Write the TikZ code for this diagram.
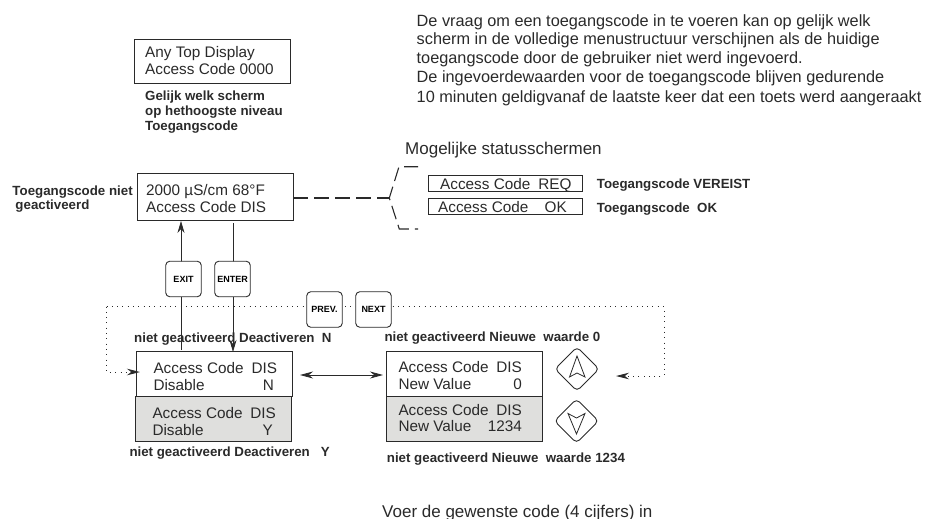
\documentclass[tikz,border=0pt]{standalone}
\usepackage{fontspec}
\setmainfont{Liberation Sans}
\usetikzlibrary{arrows.meta}
\definecolor{screengray}{HTML}{DFDFDD}
\definecolor{inkgray}{HTML}{2A2A2A}
\tikzset{
   screen/.style={draw=inkgray, line width=.9pt, minimum width=156pt, minimum height=45pt, inner sep=0pt},
   dimmed/.style={screen, fill=screengray},
   strip/.style={draw=inkgray, line width=.7pt, minimum width=154pt, minimum height=16pt, inner sep=0pt},
   lcd/.style={font=\fontsize{15.3}{17}\selectfont, text=inkgray, inner sep=0pt, anchor=base west},
   lcdend/.style={lcd, anchor=base east},
   note/.style={font=\fontsize{13.3}{15}\selectfont\bfseries, text=inkgray, inner sep=0pt, anchor=base west},
   keybox/.style={draw=inkgray, line width=.9pt, rounded corners=4pt, fill=white, minimum size=35.5pt, inner sep=0pt, font=\fontsize{9}{10}\selectfont\bfseries},
   arrowkey/.style={draw=inkgray, line width=.9pt, rounded corners=4pt, minimum size=31pt, rotate=45, inner sep=0pt},
   flow/.style={draw=inkgray, line width=.8pt, -{Stealth[length=12pt,width=7pt]}},
   loopline/.style={draw=inkgray, line width=.9pt, dash pattern=on .9pt off 4.4pt, -{Stealth[length=13pt,width=6.5pt]}},
   body/.style={font=\fontsize{16.3}{18}\selectfont, text=inkgray, inner sep=0pt, anchor=base west}
}
\begin{document}
\begin{tikzpicture}[x=1pt,y=-1pt]
   \useasboundingbox (0,0) rectangle (946,519);

   \node[body] (intro1) at (416.5,26.5) {De vraag om een toegangscode in te voeren kan op gelijk welk};
   \node[body] (intro2) at (416.5,45) {scherm in de volledige menustructuur verschijnen als de huidige};
   \node[body] (intro3) at (416.5,64) {toegangscode door de gebruiker niet werd ingevoerd.};
   \node[body] (intro4) at (416.5,83) {De ingevoerdewaarden voor de toegangscode blijven gedurende};
   \node[body] (intro5) at (416.5,102.5) {10 minuten geldigvanaf de laatste keer dat een toets werd aangeraakt};

   \node[screen, minimum height=44pt] (top) at (212.5,61) {};
   \node[lcd] (top1) at (145,57.7) {Any Top Display};
   \node[lcd] (top2) at (145,75) {Access Code 0000};
   \node[note] (topnote1) at (145,100) {Gelijk welk scherm};
   \node[note] (topnote2) at (145,116) {op hethoogste niveau};
   \node[note] (topnote3) at (145,130) {Toegangscode};

   \node[screen, minimum height=47pt] (status) at (215,197) {};
   \node[lcd] (status1) at (146,195.7) {2000 µS/cm 68°F};
   \node[lcd] (status2) at (146,212.3) {Access Code DIS};
   \node[note] (statusnote1) at (12.3,195) {Toegangscode niet};
   \node[note] (statusnote2) at (15.3,209) {geactiveerd};

   \node[body, font=\fontsize{17}{20}\selectfont] (title) at (405,154) {Mogelijke statusschermen};
   \coordinate (fork) at (389.3,198);
   \coordinate (forkup) at (418,166.7);
   \coordinate (forkdown) at (418,229);
   \draw[inkgray, line width=1.3pt, dash pattern=on 15pt off 6pt] (status.east |- fork) -- (fork);
   \draw[inkgray, line width=1.1pt, dash pattern=on 14pt off 6pt] (forkup) -- (399,166.7) -- (fork) -- (399.3,229) -- (forkdown);

   \node[strip] (req) at (505.7,183) {};
   \node[lcd] (req1) at (440,189) {Access Code};
   \node[lcdend] (req2) at (571.7,189) {REQ};
   \node[strip] (ok) at (505.7,206.5) {};
   \node[lcd] (ok1) at (438,212.3) {Access Code};
   \node[lcdend] (ok2) at (567,212.3) {OK};
   \node[note] (reqnote) at (596.7,188) {Toegangscode VEREIST};
   \node[note] (oknote) at (596.7,212) {Toegangscode\ \ OK};

   \node[screen] (dis) at (214,374) {};
   \node[dimmed] (disy) at (213,418.5) {};
   \node[lcd] (dis1) at (153.3,373.3) {Access Code};
   \node[lcdend] (dis2) at (277.3,373.3) {DIS};
   \node[lcd] (dis3) at (153.3,390) {Disable};
   \node[lcdend] (dis4) at (274,390) {N};
   \node[lcd] (disy1) at (152.3,418) {Access Code};
   \node[lcdend] (disy2) at (276,418) {DIS};
   \node[lcd] (disy3) at (152.3,435) {Disable};
   \node[lcdend] (disy4) at (273,435) {Y};
   \node[note] (disnote) at (134,342.7) {niet geactiveerd Deactiveren\ \ N};
   \node[note] (disynote) at (129.3,456) {niet geactiveerd Deactiveren\ \ \ Y};

   \node[screen] (newval) at (464,373.5) {};
   \node[dimmed] (newvalb) at (464,418.5) {};
   \node[lcd] (new1) at (398.3,372.3) {Access Code};
   \node[lcdend] (new2) at (522,372.3) {DIS};
   \node[lcd] (new3) at (398.3,389) {New Value};
   \node[lcdend] (new4) at (522,389) {0};
   \node[lcd] (newb1) at (398.3,415) {Access Code};
   \node[lcdend] (newb2) at (522,415) {DIS};
   \node[lcd] (newb3) at (398.3,431.7) {New Value};
   \node[lcdend] (newb4) at (522,431.7) {1234};
   \node[note] (newnote) at (384.3,341.7) {niet geactiveerd Nieuwe\ \ waarde 0};
   \node[note] (newbnote) at (386.7,462.3) {niet geactiveerd Nieuwe\ \ waarde 1234};

   \coordinate (exitfoot) at (181,350);
   \coordinate (enterfoot) at (233,352);
   \coordinate (entertop) at (233,223);
   \draw[flow] (exitfoot) -- (exitfoot |- status.south);
   \draw[flow] (entertop) -- (enterfoot);
   \node[keybox] (exit) at (183.5,279) {EXIT};
   \node[keybox] (enter) at (232.5,279) {ENTER};

   \coordinate (loopleft) at (106.5,306.5);
   \coordinate (loopright) at (664,306.5);
   \coordinate (looptip) at (616,376);
   \coordinate (distip) at (140,372);
   \draw[loopline] (loopleft) -- (loopright) -- (loopright |- looptip) -- (looptip);
   \draw[loopline] (loopleft) -- (loopleft |- distip) -- (distip);
   \node[keybox] (prev) at (324.5,309.5) {PREV.};
   \node[keybox] (next) at (373.5,309.5) {NEXT};

   \coordinate (swapleft) at (300,375);
   \coordinate (swapright) at (383,375);
   \draw[draw=inkgray, line width=.8pt, {Stealth[length=13pt,width=7pt]}-{Stealth[length=13pt,width=7pt]}] (swapleft) -- (swapright);

   \node[arrowkey] (up) at (577,369) {};
   \node[arrowkey] (down) at (576.5,421) {};
   \draw[inkgray, line width=.8pt] (577,356) -- (585,377) -- (577,373) -- (569.5,377) -- cycle;
   \draw[inkgray, line width=.8pt] (576.5,434) -- (568,413.5) -- (576.5,418) -- (585,413.5) -- cycle;

   \node[body, font=\fontsize{17}{19}\selectfont] (footer) at (382,517) {Voer de gewenste code (4 cijfers) in};
\end{tikzpicture}
\end{document}
